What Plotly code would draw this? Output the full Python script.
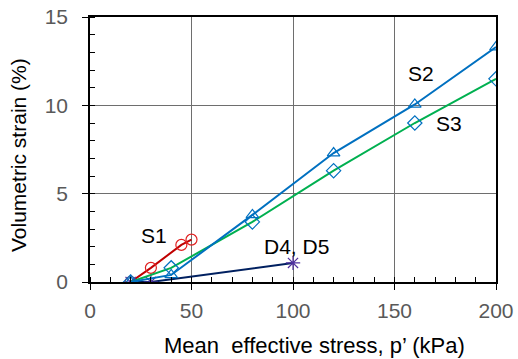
import plotly.graph_objects as go

# Data (p' in kPa, volumetric strain in %)
s1_x = [20, 30, 45, 50]
s1_y = [0.0, 0.8, 2.1, 2.4]
s2_x = [20, 40, 80, 120, 160, 200]
s2_y = [0.0, 0.4, 3.8, 7.3, 10.05, 13.3]
s3_x = [20, 40, 80, 120, 160, 200]
s3_y = [0.0, 0.8, 3.4, 6.3, 9.0, 11.5]
d_x = [20, 30, 100]
d_y = [0.0, 0.0, 1.08]

labels = ["S1", "S2", "S3", "D4, D5"]
label_x = [31.5, 163, 177, 101.5]
label_y = [2.65, 11.8, 8.95, 2.0]

x_title = "Mean\u00a0 effective stress, p’ (kPa)"
y_title = "Volumetric strain (%)"

FONT = "Liberation Sans, Arial, sans-serif"

fig = go.Figure()
fig.add_trace(go.Scatter(x=s1_x, y=s1_y, mode="lines+markers",
                         line=dict(color="#C00000", width=2),
                         marker=dict(symbol="circle-open", size=11, color="#E02020", line=dict(width=1.2))))
fig.add_trace(go.Scatter(x=d_x, y=d_y, mode="lines+markers",
                         line=dict(color="#002060", width=2),
                         marker=dict(symbol="asterisk-open", size=12, color="#5030A0", line=dict(width=1.2, color="#5030A0"))))
fig.add_trace(go.Scatter(x=s3_x, y=s3_y, mode="lines+markers",
                         line=dict(color="#00B050", width=2),
                         marker=dict(symbol="diamond-open", size=11, color="#0070C0", line=dict(width=1.2))))
fig.add_trace(go.Scatter(x=s2_x, y=s2_y, mode="lines+markers",
                         line=dict(color="#0070C0", width=2),
                         marker=dict(symbol="triangle-up-open", size=11, color="#0070C0", line=dict(width=1.2))))

for t, x, y in zip(labels, label_x, label_y):
    fig.add_annotation(x=x, y=y, text=t, showarrow=False,
                       font=dict(family=FONT, size=21, color="black"))

# axis titles (Excel-style placement)
fig.add_annotation(xref="paper", yref="paper", x=(314 - 90) / 406, y=-(345 - 282) / 265,
                   text=x_title, showarrow=False, xanchor="center", yanchor="middle",
                   font=dict(family=FONT, size=22, color="black"))
fig.add_annotation(xref="paper", yref="paper", x=-(90 - 18) / 406, y=(282 - 155) / 265,
                   text=y_title, showarrow=False, textangle=-90, xanchor="center", yanchor="middle",
                   font=dict(family=FONT, size=21, color="black"))

fig.update_layout(
    width=518, height=359,
    margin=dict(l=90, r=22, t=17, b=77),
    paper_bgcolor="white", plot_bgcolor="white",
    showlegend=False,
    font=dict(family=FONT, size=21, color="#595959"),
)
fig.update_xaxes(
    range=[0, 200], tickvals=[0, 50, 100, 150, 200],
    showgrid=True, gridcolor="#6e6e6e", gridwidth=1.2,
    showline=True, linecolor="black", linewidth=1.5, mirror=True,
    ticks="outside", ticklen=6, tickcolor="black", tickwidth=1.2,
    minor=dict(dtick=10, ticks="inside", ticklen=5, tickcolor="black", showgrid=False),
    zeroline=False, automargin=False,
    ticklabelstandoff=3,
)
fig.update_yaxes(
    range=[0, 15], tickvals=[0, 5, 10, 15],
    showgrid=True, gridcolor="#6e6e6e", gridwidth=1.2,
    showline=True, linecolor="black", linewidth=1.5, mirror=True,
    ticks="outside", ticklen=6, tickcolor="black", tickwidth=1.2,
    minor=dict(dtick=1, ticks="inside", ticklen=5, tickcolor="black", showgrid=False),
    zeroline=False, automargin=False,
    ticklabelstandoff=10,
)

fig.write_html("out.html")
